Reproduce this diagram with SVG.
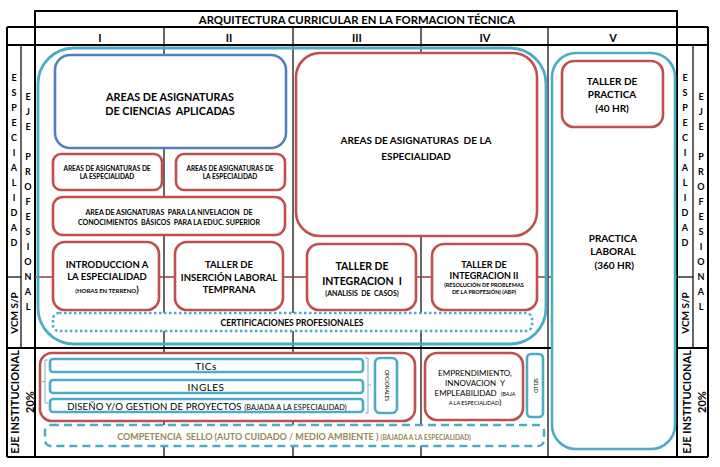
<svg xmlns="http://www.w3.org/2000/svg" width="720" height="467" viewBox="0 0 720 467">
<style>
text{font-family:Lato,"Liberation Sans",sans-serif;fill:#000;white-space:pre}
.b{font-weight:bold}
.c{text-anchor:middle}
.red{fill:#fff;stroke:#C0504D;stroke-width:2.6}
.teal{fill:none;stroke:#4BACC6;stroke-width:2.8}
.tealw{fill:#fff;stroke:#4BACC6;stroke-width:2.6}
.blue{fill:#fff;stroke:#4F81BD;stroke-width:2.6}
.g{stroke:#000;stroke-width:1.2;fill:none}
.gt{stroke:#000;stroke-width:2;fill:none}
.let{font-weight:bold;font-size:9px;text-anchor:middle}
.brk{fill:none;stroke:#7FA9D6;stroke-width:1}
</style>
<rect width="720" height="467" fill="#fff"/>
<g id="grid">
  <line class="gt" x1="35" y1="11" x2="677" y2="11"/>
  <line class="gt" x1="7" y1="27" x2="708" y2="27"/>
  <line class="gt" x1="7" y1="45" x2="708" y2="45"/>
  <line class="gt" x1="7" y1="348" x2="708" y2="348"/>
  <line class="gt" x1="7" y1="457" x2="708" y2="457"/>
  <line class="gt" x1="7" y1="27" x2="7" y2="457"/>
  <line class="gt" x1="35" y1="10" x2="35" y2="457"/>
  <line class="gt" x1="677" y1="10" x2="677" y2="457"/>
  <line class="gt" x1="708" y1="27" x2="708" y2="457"/>
  <line class="g" x1="21" y1="45" x2="21" y2="348"/>
  <line class="g" x1="693" y1="45" x2="693" y2="348"/>
  <line class="g" x1="7" y1="277" x2="21" y2="277"/>
  <line class="g" x1="677" y1="277" x2="693" y2="277"/>
  <line class="g" x1="164" y1="27" x2="164" y2="457"/>
  <line class="g" x1="293" y1="27" x2="293" y2="457"/>
  <line class="g" x1="421" y1="27" x2="421" y2="457"/>
  <line class="g" x1="548" y1="27" x2="548" y2="457"/>
</g>
<g id="connectors">
  <line x1="35" y1="277" x2="677" y2="277" stroke="#8B3F3D" stroke-width="1.5"/>
</g>
<g id="headers">
  <text class="b c" x="357" y="24" font-size="11.3">ARQUITECTURA CURRICULAR EN LA FORMACION TÉCNICA</text>
  <text class="b c" x="100" y="42" font-size="11">I</text>
  <text class="b c" x="229" y="42" font-size="11">II</text>
  <text class="b c" x="357" y="42" font-size="11">III</text>
  <text class="b c" x="485" y="42" font-size="11">IV</text>
  <text class="b c" x="613" y="42" font-size="11">V</text>
</g>
<g id="left-labels">
  <text class="let"><tspan x="14" y="81">E</tspan><tspan x="14" y="96">S</tspan><tspan x="14" y="111">P</tspan><tspan x="14" y="126">E</tspan><tspan x="14" y="141">C</tspan><tspan x="14" y="156">I</tspan><tspan x="14" y="171">A</tspan><tspan x="14" y="186">L</tspan><tspan x="14" y="201">I</tspan><tspan x="14" y="216">D</tspan><tspan x="14" y="231">A</tspan><tspan x="14" y="246">D</tspan></text>
  <text class="let"><tspan x="28" y="100">E</tspan><tspan x="28" y="115">J</tspan><tspan x="28" y="130">E</tspan><tspan x="28" y="160">P</tspan><tspan x="28" y="175">R</tspan><tspan x="28" y="190">O</tspan><tspan x="28" y="205">F</tspan><tspan x="28" y="220">E</tspan><tspan x="28" y="235">S</tspan><tspan x="28" y="250">I</tspan><tspan x="28" y="265">O</tspan><tspan x="28" y="280">N</tspan><tspan x="28" y="295">A</tspan><tspan x="28" y="310">L</tspan></text>
  <text class="b c" font-size="10" transform="translate(18,313) rotate(-90)">VCM S/P</text>
  <text class="b c" font-size="11" transform="translate(18.5,402) rotate(-90)">EJE INSTITUCIONAL</text>
  <text class="b c" font-size="11" transform="translate(34,402) rotate(-90)">20%</text>
</g>
<g id="right-labels">
  <text class="let"><tspan x="685" y="81">E</tspan><tspan x="685" y="96">S</tspan><tspan x="685" y="111">P</tspan><tspan x="685" y="126">E</tspan><tspan x="685" y="141">C</tspan><tspan x="685" y="156">I</tspan><tspan x="685" y="171">A</tspan><tspan x="685" y="186">L</tspan><tspan x="685" y="201">I</tspan><tspan x="685" y="216">D</tspan><tspan x="685" y="231">A</tspan><tspan x="685" y="246">D</tspan></text>
  <text class="let"><tspan x="701" y="100">E</tspan><tspan x="701" y="115">J</tspan><tspan x="701" y="130">E</tspan><tspan x="701" y="160">P</tspan><tspan x="701" y="175">R</tspan><tspan x="701" y="190">O</tspan><tspan x="701" y="205">F</tspan><tspan x="701" y="220">E</tspan><tspan x="701" y="235">S</tspan><tspan x="701" y="250">I</tspan><tspan x="701" y="265">O</tspan><tspan x="701" y="280">N</tspan><tspan x="701" y="295">A</tspan><tspan x="701" y="310">L</tspan></text>
  <text class="b c" font-size="10" transform="translate(689,313) rotate(-90)">VCM S/P</text>
  <text class="b c" font-size="11" transform="translate(691,402) rotate(-90)">EJE INSTITUCIONAL</text>
  <text class="b c" font-size="11" transform="translate(706,402) rotate(-90)">20%</text>
</g>
<g id="eje-profesional-container">
  <rect class="teal" x="38" y="48" width="508" height="296" rx="36"/>
</g>
<g id="ciencias-aplicadas">
  <rect class="blue" x="55" y="55" width="231" height="93" rx="15"/>
  <text class="b c" font-size="10.8" x="170" y="101">AREAS DE ASIGNATURAS</text>
  <text class="b c" font-size="10.8" x="170" y="115">DE CIENCIAS  APLICADAS</text>
</g>
<g id="especialidad-1">
  <rect class="red" x="53" y="154" width="109" height="36" rx="8"/>
  <text class="b c" font-size="6.5" x="107" y="171">AREAS DE ASIGNATURAS DE</text>
  <text class="b c" font-size="6.5" x="107" y="179">LA ESPECIALIDAD</text>
</g>
<g id="especialidad-2">
  <rect class="red" x="176" y="154" width="109" height="36" rx="8"/>
  <text class="b c" font-size="6.5" x="230" y="171">AREAS DE ASIGNATURAS DE</text>
  <text class="b c" font-size="6.5" x="230" y="179">LA ESPECIALIDAD</text>
</g>
<g id="nivelacion">
  <rect class="red" x="53" y="197" width="232" height="38" rx="10"/>
  <text class="b c" font-size="7" x="169" y="214.5">AREA DE ASIGNATURAS  PARA LA NIVELACION  DE</text>
  <text class="b c" font-size="7" x="169" y="224.5">CONOCIMIENTOS  BÁSICOS  PARA LA EDUC. SUPERIOR</text>
</g>
<g id="especialidad-grande">
  <rect class="red" x="296" y="53" width="241" height="183" rx="24"/>
  <text class="b c" font-size="10" x="416" y="144">AREAS DE ASIGNATURAS  DE LA</text>
  <text class="b c" font-size="10" x="416" y="160">ESPECIALIDAD</text>
</g>
<g id="introduccion">
  <rect class="red" x="53" y="242" width="106" height="68" rx="12"/>
  <text class="b c" font-size="9.5" x="107" y="268">INTRODUCCION A</text>
  <text class="b c" font-size="9.5" x="107" y="280">LA ESPECIALIDAD</text>
  <text class="b c" font-size="6" x="107" y="293">(HORAS EN TERRENO<tspan font-size="9">)</tspan></text>
</g>
<g id="insercion">
  <rect class="red" x="175" y="242" width="108" height="68" rx="12"/>
  <text class="b c" font-size="9.5" x="229" y="268">TALLER DE</text>
  <text class="b c" font-size="9.5" x="229" y="281">INSERCIÓN LABORAL</text>
  <text class="b c" font-size="9.5" x="229" y="293">TEMPRANA</text>
</g>
<g id="integracion-1">
  <rect class="red" x="307" y="244" width="109" height="66" rx="12"/>
  <text class="b c" font-size="10.5" x="362" y="270">TALLER DE</text>
  <text class="b c" font-size="10.5" x="362" y="285">INTEGRACION  I</text>
  <text class="b c" font-size="7" x="362" y="296">(ANALISIS  DE  CASOS)</text>
</g>
<g id="integracion-2">
  <rect class="red" x="432" y="244" width="105" height="66" rx="12"/>
  <text class="b c" font-size="9" x="484" y="268">TALLER DE</text>
  <text class="b c" font-size="9" x="484" y="279">INTEGRACION II</text>
  <text class="b c" font-size="5.5" x="484" y="286.5">(RESOLUCIÓN DE PROBLEMAS</text>
  <text class="b c" font-size="5.5" x="484" y="294">DE LA PROFESIÓN) (ABP)</text>
</g>
<g id="certificaciones">
  <rect x="53" y="313" width="479" height="18" rx="6" fill="#fff" stroke="#4BACC6" stroke-width="2.5" stroke-dasharray="2.5 2.5"/>
  <text class="b c" font-size="8.5" x="292" y="326">CERTIFICACIONES PROFESIONALES</text>
</g>
<g id="practica-laboral">
  <rect class="tealw" x="552" y="53" width="123" height="396" rx="24"/>
  <text class="b c" font-size="10" x="613" y="242">PRACTICA</text>
  <text class="b c" font-size="10" x="613" y="255">LABORAL</text>
  <text class="b c" font-size="10" x="613" y="269"> (360 HR)</text>
</g>
<g id="taller-practica">
  <rect class="red" x="562" y="61" width="101" height="66" rx="12"/>
  <text class="b c" font-size="10" x="612" y="85">TALLER DE</text>
  <text class="b c" font-size="10" x="612" y="98">PRACTICA</text>
  <text class="b c" font-size="10" x="612" y="112">(40 HR)</text>
</g>
<g id="institucional">
  <rect class="red" x="40" y="353" width="375" height="68" rx="12"/>
  <path class="brk" d="M48 360 H45 V403 H48 M45 381.5 H42"/>
  <path class="brk" d="M365 358 H368 V413 H365 M368 385 H371"/>
</g>
<g id="tics">
  <rect class="tealw" x="50" y="359" width="313" height="13" rx="3"/>
  <text class="c" font-size="10" letter-spacing="0.5" x="206" y="369.5">TICs</text>
</g>
<g id="ingles">
  <rect class="tealw" x="50" y="380" width="313" height="13" rx="3"/>
  <text class="c" font-size="10" letter-spacing="0.5" x="206" y="390.5">INGLES</text>
</g>
<g id="diseno">
  <rect class="tealw" x="50" y="399" width="313" height="13" rx="3"/>
  <text class="c" font-size="9.6" letter-spacing="0.1" x="207" y="409.5">DISEÑO Y/O GESTION DE PROYECTOS <tspan font-size="7.3">(BAJADA A LA ESPECIALIDAD)</tspan></text>
</g>
<g id="opcionales">
  <rect class="tealw" x="375" y="358" width="22" height="55" rx="5"/>
  <text class="c" font-size="5" transform="translate(384.5,385.5) rotate(90)">OPCIONALES</text>
</g>
<g id="emprendimiento">
  <rect class="red" x="425" y="353" width="98" height="67" rx="12"/>
  <text class="c" font-size="8" x="475" y="376">EMPRENDIMIENTO,</text>
  <text class="c" font-size="8" x="475" y="386">INNOVACION  Y</text>
  <text class="c" font-size="8" x="475" y="396">EMPLEABILIDAD  <tspan font-size="5.5">(BAJA</tspan></text>
  <text class="c" font-size="5.5" x="475" y="405">A LA ESPECIALIDAD<tspan font-size="8">)</tspan></text>
</g>
<g id="sello">
  <rect class="tealw" x="527" y="354" width="16" height="63" rx="4"/>
  <text class="c" font-size="5" transform="translate(533.5,385.5) rotate(90)">SELLO</text>
</g>
<g id="competencia">
  <rect x="45" y="425" width="499" height="21" rx="6" fill="#fff" stroke="#4BACC6" stroke-width="2.5" stroke-dasharray="8 5"/>
  <text class="b c" font-size="9" x="294" y="439.5" style="fill:#948A54">COMPETENCIA  SELLO (AUTO CUIDADO / MEDIO AMBIENTE ) <tspan font-size="6.5">(BAJADA A LA ESPECIALIDAD)</tspan></text>
</g>
</svg>
